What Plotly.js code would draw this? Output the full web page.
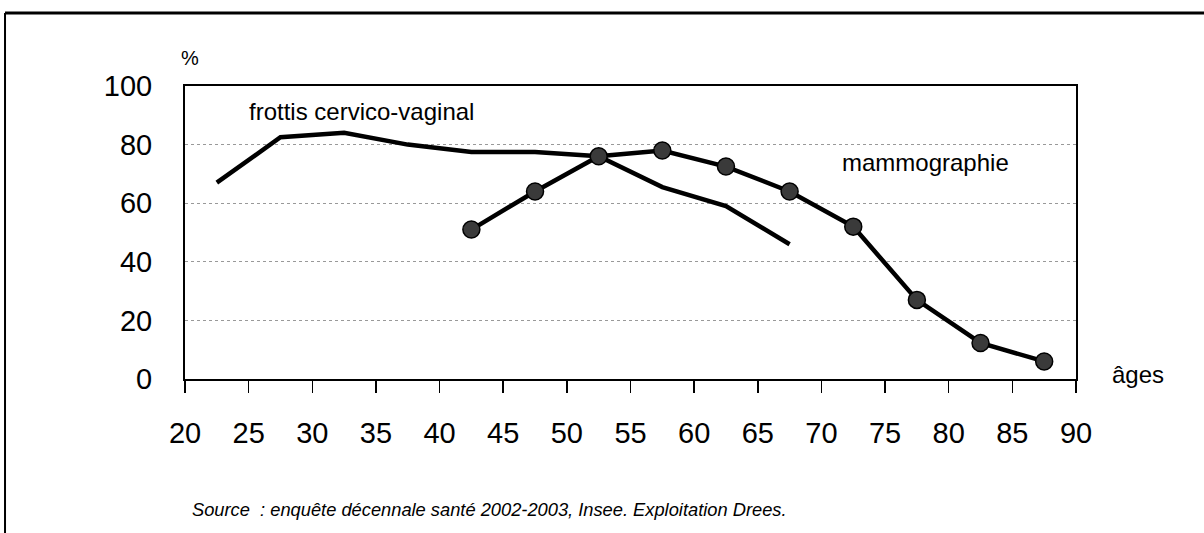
<!DOCTYPE html>
<html>
<head>
<meta charset="utf-8">
<script src="https://cdn.plot.ly/plotly-3.0.1.min.js"></script>
<style>
  html, body { margin: 0; padding: 0; background: #fff; }
  #chart { width: 1204px; height: 533px; }
</style>
</head>
<body>
<div id="chart"></div>
<script>
// Age-group midpoints
const agesFrottis = [22.5, 27.5, 32.5, 37.5, 42.5, 47.5, 52.5, 57.5, 62.5, 67.5];
const frottis     = [67, 82.5, 84, 80, 77.5, 77.5, 76, 65.5, 59, 46];

const agesMammo   = [42.5, 47.5, 52.5, 57.5, 62.5, 67.5, 72.5, 77.5, 82.5, 87.5];
const mammo       = [51, 64, 76, 78, 72.5, 64, 52, 27, 12.3, 6];

const xTicks = [20, 25, 30, 35, 40, 45, 50, 55, 60, 65, 70, 75, 80, 85, 90];
const yTicks = [0, 20, 40, 60, 80, 100];

const labelFrottis = "frottis cervico-vaginal";
const labelMammo = "mammographie";
const sourceText = "Source  : enquête décennale santé 2002-2003, Insee. Exploitation Drees.";

const narrow = "'Liberation Sans Narrow', 'Arial Narrow', 'Liberation Sans', Arial, sans-serif";

const traces = [
  {
    x: agesFrottis, y: frottis, type: 'scatter', mode: 'lines',
    line: { color: '#000', width: 4.5 }, hoverinfo: 'skip', showlegend: false
  },
  {
    x: agesMammo, y: mammo, type: 'scatter', mode: 'lines+markers',
    line: { color: '#000', width: 4.5 },
    marker: { size: 17, color: '#3a3a3a', line: { color: '#000', width: 1.5 } },
    hoverinfo: 'skip', showlegend: false
  }
];

const layout = {
  width: 1204, height: 533,
  margin: { l: 185, r: 128, t: 86, b: 154 },
  paper_bgcolor: '#fff', plot_bgcolor: '#fff',
  showlegend: false,
  xaxis: {
    range: [20, 90], tickvals: xTicks, ticktext: xTicks.map(String),
    showgrid: false, zeroline: false,
    showline: true, linecolor: '#000', linewidth: 2, mirror: true,
    ticks: 'outside', ticklen: 12, tickwidth: 1.5, tickcolor: '#000',
    ticklabelstandoff: 15,
    tickfont: { family: narrow, size: 29, color: '#000' }
  },
  yaxis: {
    range: [0, 100], tickvals: yTicks, ticktext: yTicks.map(String),
    showgrid: true, gridcolor: '#999', gridwidth: 1, griddash: 'dot',
    zeroline: false,
    showline: true, linecolor: '#000', linewidth: 2, mirror: true,
    ticks: '', ticklabelstandoff: 25,
    tickfont: { family: narrow, size: 29, color: '#000' }
  },
  annotations: [
    { text: '%', xref: 'paper', yref: 'paper', x: 0.006, y: 1.096, xanchor: 'center', yanchor: 'middle',
      showarrow: false, font: { family: narrow, size: 20, color: '#000' } },
    { text: labelFrottis, xref: 'x', yref: 'y', x: 24.87, y: 91.3, xanchor: 'left', yanchor: 'middle',
      showarrow: false, font: { family: narrow, size: 24, color: '#000' } },
    { text: labelMammo, xref: 'x', yref: 'y', x: 71.45, y: 74, xanchor: 'left', yanchor: 'middle',
      showarrow: false, font: { family: narrow, size: 24, color: '#000' } },
    { text: 'âges', xref: 'paper', yref: 'y', x: 1.038, y: 1.5, xanchor: 'left', yanchor: 'middle',
      showarrow: false, font: { family: narrow, size: 24, color: '#000' } },
    { text: '<i>' + sourceText + '</i>', xref: 'paper', yref: 'paper', x: 0.0056, y: -0.447,
      xanchor: 'left', yanchor: 'middle', showarrow: false,
      font: { family: "'Liberation Sans', Arial, sans-serif", size: 18.3, color: '#000' } }
  ],
  shapes: [
    // outer frame: top and left edges
    { type: 'line', xref: 'paper', yref: 'paper', x0: -0.202, x1: 1.15, y0: 1.249, y1: 1.249,
      line: { color: '#000', width: 3 } },
    { type: 'line', xref: 'paper', yref: 'paper', x0: -0.202, x1: -0.202, y0: 1.249, y1: -0.54,
      line: { color: '#000', width: 2 } }
  ]
};

Plotly.newPlot('chart', traces, layout, { staticPlot: true, displayModeBar: false });
</script>
</body>
</html>
